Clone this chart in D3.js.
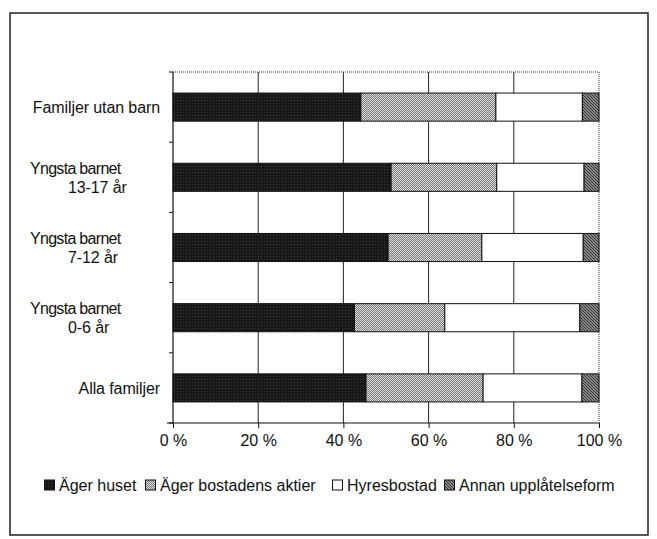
<!DOCTYPE html>
<html>
<head>
<meta charset="utf-8">
<script src="https://cdn.jsdelivr.net/npm/d3@7"></script>
<style>
  body { margin: 0; background: #fff; }
  text { font-family: "Liberation Sans", Arial, sans-serif; fill: #111; }
</style>
</head>
<body>
<div id="chart"></div>
<script>
width = 657
height = 539

// categories, top to bottom (a "|" splits a label over two lines)
categories = ["Familjer utan barn", "Yngsta barnet|13-17 år", "Yngsta barnet|7-12 år", "Yngsta barnet|0-6 år", "Alla familjer"]
seriesNames = ["Äger huset", "Äger bostadens aktier", "Hyresbostad", "Annan upplåtelseform"]

// percent shares
agerHuset   = [44.1, 51.2, 50.5, 42.6, 45.3]
agerAktier  = [31.7, 24.8, 22.0, 21.2, 27.5]
hyresbostad = [20.3, 20.5, 23.8, 31.7, 23.2]
annan       = [3.9, 3.5, 3.7, 4.5, 4.0]

xTicks = [0, 20, 40, 60, 80, 100]

margin = {top: 72, right: 58, bottom: 116, left: 173}

const rows = categories.map((c, i) => ({
  cat: c,
  "Äger huset": agerHuset[i],
  "Äger bostadens aktier": agerAktier[i],
  "Hyresbostad": hyresbostad[i],
  "Annan upplåtelseform": annan[i]
}))

const stacked = d3.stack().keys(seriesNames)(rows)

const svg = d3.select("#chart").append("svg")
    .attr("width", width)
    .attr("height", height)

// textures that mimic the printed fills
const defs = svg.append("defs")
const p0 = defs.append("pattern").attr("id", "pat0").attr("width", 3).attr("height", 3).attr("patternUnits", "userSpaceOnUse")
p0.append("rect").attr("width", 3).attr("height", 3).attr("fill", "#181818")
p0.append("rect").attr("x", 1).attr("y", 1).attr("width", 1).attr("height", 1).attr("fill", "#3a3a3a")
const p1 = defs.append("pattern").attr("id", "pat1").attr("width", 2).attr("height", 2).attr("patternUnits", "userSpaceOnUse")
p1.append("rect").attr("width", 2).attr("height", 2).attr("fill", "#e0e0e0")
p1.append("rect").attr("width", 1).attr("height", 1).attr("fill", "#777")
p1.append("rect").attr("x", 1).attr("y", 1).attr("width", 1).attr("height", 1).attr("fill", "#777")
const p3 = defs.append("pattern").attr("id", "pat3").attr("width", 3).attr("height", 3).attr("patternUnits", "userSpaceOnUse")
p3.append("rect").attr("width", 3).attr("height", 3).attr("fill", "#8a8a8a")
p3.append("path").attr("d", "M0,0h1v1h-1zM1,1h1v1h-1zM2,2h1v1h-1z").attr("fill", "#2e2e2e")

const fills = {
  "Äger huset": "url(#pat0)",
  "Äger bostadens aktier": "url(#pat1)",
  "Hyresbostad": "#ffffff",
  "Annan upplåtelseform": "url(#pat3)"
}

// outer frame
svg.append("rect")
    .attr("x", 10).attr("y", 13)
    .attr("width", 638).attr("height", 522)
    .attr("fill", "none")
    .attr("stroke", "#222")
    .attr("stroke-width", 1.5)

const g = svg.append("g")
    .attr("transform", `translate(${margin.left},${margin.top})`)

const iw = width - margin.left - margin.right
const ih = height - margin.top - margin.bottom

const x = d3.scaleLinear().domain([0, 100]).range([0, iw])
const y = d3.scaleBand().domain(categories).range([0, ih]).paddingInner(0.6).paddingOuter(0.3)

// vertical grid lines
g.selectAll(".grid")
  .data(xTicks.slice(1, -1))
  .enter().append("line")
    .attr("x1", d => x(d)).attr("x2", d => x(d))
    .attr("y1", 0).attr("y2", ih)
    .attr("stroke", "#222").attr("stroke-width", 1)

// dotted top and right edges of the plot
g.append("line").attr("x1", 0).attr("x2", x(100)).attr("y1", 0).attr("y2", 0)
    .attr("stroke", "#333").attr("stroke-dasharray", "1,1")
g.append("line").attr("x1", x(100)).attr("x2", x(100)).attr("y1", 0).attr("y2", ih)
    .attr("stroke", "#333").attr("stroke-dasharray", "1,1")

// bars
g.selectAll(".series")
  .data(stacked)
  .enter().append("g")
    .attr("fill", d => fills[d.key])
  .selectAll("rect")
  .data(d => d)
  .enter().append("rect")
    .attr("x", d => x(d[0]))
    .attr("width", d => x(d[1]) - x(d[0]))
    .attr("y", d => y(d.data.cat))
    .attr("height", y.bandwidth())
    .attr("stroke", "#111")
    .attr("stroke-width", 1)

// y axis: line + short ticks between categories
g.append("line").attr("x1", 0).attr("x2", 0).attr("y1", 0).attr("y2", ih)
    .attr("stroke", "#111").attr("stroke-width", 1.2)
g.selectAll(".ytick")
  .data(d3.range(0, categories.length + 1))
  .enter().append("line")
    .attr("x1", -4).attr("x2", 0)
    .attr("y1", i => i * ih / categories.length)
    .attr("y2", i => i * ih / categories.length)
    .attr("stroke", "#111")

// category labels: one-liners right aligned, two-liners left aligned with the 2nd line indented
const labelSize = "16px"
categories.forEach(c => {
  const parts = c.split("|")
  const cy = y(c) + y.bandwidth() / 2
  if (parts.length === 1) {
    g.append("text")
      .attr("x", -13).attr("y", cy)
      .attr("dy", "0.36em")
      .attr("text-anchor", "end")
      .style("font-size", labelSize)
      .style("letter-spacing", "-0.1px")
      .text(parts[0])
  } else {
    g.append("text")
      .attr("x", 30 - margin.left).attr("y", cy - 9.5)
      .attr("dy", "0.36em")
      .style("font-size", labelSize)
      .style("letter-spacing", "-0.7px")
      .text(parts[0])
    g.append("text")
      .attr("x", 68 - margin.left).attr("y", cy + 9.5)
      .attr("dy", "0.36em")
      .style("font-size", labelSize)
      .style("letter-spacing", "-0.1px")
      .text(parts[1])
  }
})

// x axis
const xAxis = g.append("g")
    .attr("transform", `translate(0,${ih})`)
    .call(d3.axisBottom(x).tickValues(xTicks).tickSize(5).tickFormat(d => d + " %"))
xAxis.select(".domain").remove()
xAxis.append("line").attr("x1", -6).attr("x2", x(100)).attr("y1", 0).attr("y2", 0)
    .attr("stroke", "#111").attr("stroke-width", 1.2)
xAxis.selectAll(".tick line").attr("stroke", "#111")
xAxis.selectAll(".tick text")
    .attr("y", 12)
    .style("font-size", labelSize)
    .style("font-family", "'Liberation Sans', Arial, sans-serif")
    .attr("fill", "#111")

// legend
const legendX = [44, 145, 332, 444]
const legend = svg.selectAll(".legend")
  .data(seriesNames)
  .enter().append("g")
    .attr("transform", (d, i) => `translate(${legendX[i]},485)`)
legend.append("rect")
    .attr("x", 0.5).attr("y", -5)
    .attr("width", 10).attr("height", 10)
    .attr("fill", d => fills[d])
    .attr("stroke", "#111")
legend.append("text")
    .attr("x", 15).attr("y", 0)
    .attr("dy", "0.36em")
    .style("font-size", labelSize)
    .text(d => d)
</script>
</body>
</html>
